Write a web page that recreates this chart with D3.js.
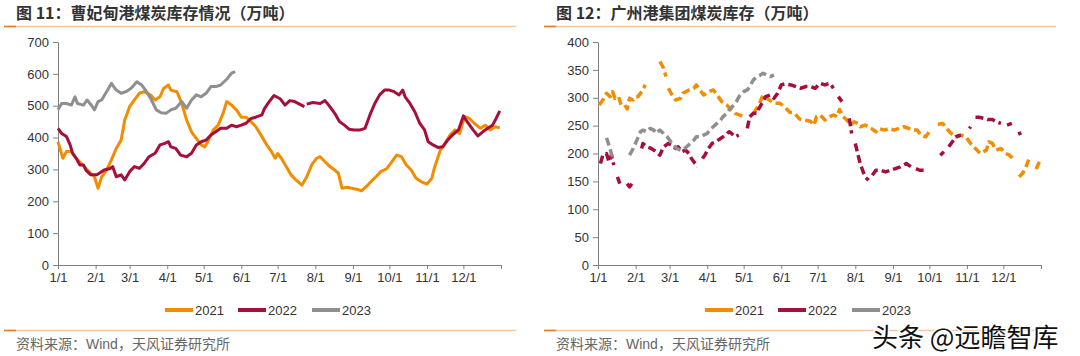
<!DOCTYPE html>
<html><head><meta charset="utf-8">
<script src="https://cdn.jsdelivr.net/npm/d3@7/dist/d3.min.js"></script>
<style>
html,body{margin:0;padding:0;background:#fff;}
svg{display:block;}
</style></head>
<body>
<svg id="c" width="1080" height="356"></svg>
<script>
// ---------- DATA ----------
const monthStartDays = [0,31,59,90,120,151,181,212,243,273,304,334,365];
const monthLabels = ["1/1","2/1","3/1","4/1","5/1","6/1","7/1","8/1","9/1","10/1","11/1","12/1",""];
const seriesNames = ["2021","2022","2023"];
const leftTicks = [0,100,200,300,400,500,600,700];
const rightTicks = [0,50,100,150,200,250,300,350,400];

// 曹妃甸港 (left) — [day of year, 万吨]
const cfd2021 = [[0,387],[4,335],[7,356],[11,356],[15,335],[19,319],[23,303],[27,288],[30,277],[33,241],[36,277],[40,298],[44,330],[48,366],[52,392],[55,455],[59,497],[63,518],[67,539],[71,544],[76,534],[80,518],[84,528],[87,554],[91,565],[93,549],[98,544],[102,507],[106,455],[110,418],[114,397],[118,377],[121,371],[124,392],[128,424],[132,439],[136,476],[139,513],[143,502],[147,487],[151,464],[155,464],[159,450],[163,434],[168,403],[172,377],[176,355],[179,335],[181,350],[184,335],[188,309],[192,283],[196,267],[201,251],[205,277],[209,314],[213,335],[216,340],[220,324],[224,309],[228,298],[231,288],[234,241],[238,244],[242,241],[246,238],[250,233],[254,246],[258,262],[262,277],[266,293],[271,303],[275,324],[279,345],[283,340],[287,314],[291,298],[295,272],[299,262],[304,254],[308,272],[310,303],[315,361],[319,382],[323,408],[327,424],[331,413],[335,466],[339,460],[343,445],[348,429],[352,439],[356,424],[360,434],[364,431]];
const cfd2022 = [[0,429],[3,413],[7,403],[10,377],[12,351],[15,335],[18,314],[21,314],[23,298],[27,283],[32,283],[34,288],[38,298],[43,303],[45,309],[48,277],[52,283],[55,267],[59,293],[63,309],[67,303],[71,319],[75,340],[80,351],[84,377],[88,382],[91,387],[93,371],[97,366],[101,345],[106,340],[110,351],[114,377],[118,387],[122,392],[126,408],[130,418],[134,429],[139,429],[143,439],[147,434],[151,439],[155,445],[159,460],[163,464],[168,471],[170,490],[174,513],[178,532],[183,522],[187,502],[191,516],[195,513],[199,505],[203,497],null,[205,505],[210,510],[216,507],[220,516],[224,497],[228,476],[232,450],[236,439],[240,426],[244,424],[249,424],[253,429],[257,471],[261,507],[265,534],[269,549],[273,549],[277,544],[281,534],[284,549],[286,528],[290,507],[294,481],[298,445],[302,424],[305,387],[309,377],[313,369],[317,371],[321,392],[325,408],[330,424],[334,468],[338,445],[342,424],[346,405],[350,418],[354,429],[358,439],[361,460],[364,484]];
const cfd2023 = [[0,487],[3,507],[7,507],[11,502],[14,528],[16,507],[21,502],[24,518],[28,499],[30,487],[33,513],[36,518],[40,544],[44,570],[48,549],[52,539],[56,544],[60,554],[65,575],[69,565],[73,544],[77,518],[81,487],[85,478],[89,476],[93,487],[97,492],[102,513],[106,492],[110,518],[114,534],[118,528],[122,539],[126,560],[130,560],[134,565],[139,583],[143,602],[146,607]];

// 广州港集团 (right) — [day of year, 万吨]; null = gap in data
const gz2021 = [[1,287],[4,296],[7,308],[10,302],[12,311],[14,299],[17,302],[19,287],[22,287],[24,280],[26,299],[29,296],[31,302],[33,302],[36,311],[39,323],null,[51,365],[54,353],[56,338],null,[58,317],[61,305],[64,296],[68,299],[70,308],[75,314],[79,317],[81,323],[84,314],[87,305],[91,311],[95,314],[99,302],[102,293],[106,287],[110,278],[113,272],[117,269],[120,266],null,[128,272],[132,285],[136,305],[141,296],[146,290],[150,290],[154,283],[158,274],[162,272],[166,262],[170,260],[175,258],[178,251],[180,266],[183,269],[187,260],[191,266],[194,269],[197,266],[199,279],[202,266],[205,260],[208,251],[211,257],[214,254],[216,248],[220,251],[225,245],[229,239],[231,245],[236,242],[240,245],[244,242],[248,245],[252,248],[256,245],[259,242],[263,242],[266,233],[270,230],[273,239],null,[280,252],[284,254],[287,245],[291,236],[295,230],[299,233],[303,230],[307,218],[311,209],[315,200],[320,206],[322,221],[325,218],[328,206],[332,209],[336,200],[339,197],[343,188],null,[347,158],[350,165],[353,178],[355,190],null,[361,172],[363,182],[365,190]];
const gz2022 = [[2,182],[4,197],[7,200],[9,185],[11,197],[13,179],null,[16,158],[18,146],null,[24,146],[26,140],[28,146],null,[36,209],[37,218],[40,212],[44,209],[48,203],[51,197],[54,212],[58,218],[61,215],[64,209],[66,212],[69,203],[72,206],[75,200],[77,191],[80,182],[82,176],null,[86,191],[88,197],[91,209],[94,218],[97,221],[101,227],[105,233],[108,239],[110,236],[113,230],[116,233],null,[123,245],[125,266],[128,272],[131,272],[132,278],[135,290],[138,302],[142,305],[145,299],[148,308],[151,323],[154,325],[159,323],[163,320],[167,317],[171,320],[175,320],[179,317],[183,326],[187,323],[191,326],[194,317],null,[198,302],[201,293],null,[207,263],[209,236],null,[212,218],[214,200],[216,182],[218,170],[220,158],[223,152],null,[226,161],[229,170],[233,170],[237,167],[241,170],[245,173],[249,176],[254,182],[258,176],null,[262,173],[265,170],[269,170],null,[282,197],[285,203],null,[289,212],[292,221],[295,230],[299,233],null,[306,245],[307,248],null,[311,265],[314,265],[318,263],[321,261],[325,261],[328,257],[332,254],null,[337,251],[341,254],null,[347,239],[348,233]];
const gz2023 = [[7,228],[9,215],[11,200],[12,194],null,[26,197],[29,209],[32,224],[35,239],[37,242],[40,239],[43,245],[46,242],[48,236],[51,242],[54,236],[57,230],[59,224],[62,215],[65,209],[68,206],[70,206],[73,212],[76,218],[79,224],[81,230],[84,230],[87,233],[90,236],[92,242],[95,248],[98,254],[101,260],[103,266],[106,272],[109,281],[112,287],[114,293],[117,305],[120,311],[123,314],[125,320],[128,332],[131,338],[134,341],[136,344],[139,341],[142,338],[145,341]];

const colors = ["#F28C00","#A50F3A","#8F8F8F"];

// ---------- DRAW ----------
const svg = d3.select("#c");
const cjk = "'Liberation Sans','Noto Sans CJK SC',Arial,sans-serif";

function chart(ox, title, series, yMax, yTicks, dashed) {
  const g = svg.append("g").attr("transform", `translate(${ox},0)`);
  g.append("text").attr("x", 16).attr("y", 19).text(title)
    .attr("font-family", "'Noto Sans CJK SC',sans-serif").attr("font-weight", "bold")
    .attr("font-size", 16).attr("fill", "#333");
  g.append("line").attr("x1", 4).attr("x2", 516).attr("y1", 26.5).attr("y2", 26.5)
    .attr("stroke", "#F9C79B").attr("stroke-width", 1.3);
  g.append("line").attr("x1", 4).attr("x2", 16).attr("y1", 26.5).attr("y2", 26.5)
    .attr("stroke", "#EE7A22").attr("stroke-width", 1.6);

  const x = d3.scaleLinear().domain([0, 365]).range([58, 501]);
  const y = d3.scaleLinear().domain([0, yMax]).range([265, 42]);

  const xAxis = d3.axisBottom(x).tickValues(monthStartDays)
    .tickFormat((d, i) => monthLabels[i]).tickSize(4).tickPadding(4).tickSizeOuter(0);
  const yAxis = d3.axisLeft(y).tickValues(yTicks).tickSize(5).tickPadding(4).tickSizeOuter(0);

  const ax = g.append("g").attr("transform", "translate(0,265)").call(xAxis);
  const ay = g.append("g").attr("transform", "translate(58,0)").call(yAxis);
  [ax, ay].forEach(a => {
    a.select(".domain").attr("stroke", "#808080");
    a.selectAll(".tick line").attr("stroke", "#808080");
    a.selectAll(".tick text").attr("fill", "#333").attr("font-size", 13)
      .attr("font-family", "'Liberation Sans',Arial,sans-serif");
  });

  const line = d3.line().defined(d => d !== null)
    .x(d => x(d[0])).y(d => y(d[1])).curve(d3.curveLinear);

  series.forEach((s, i) => {
    const p = g.append("path").datum(s).attr("d", line)
      .attr("fill", "none").attr("stroke", colors[i])
      .attr("stroke-width", dashed ? 3.5 : 3).attr("stroke-linejoin", "round");
    if (dashed) p.attr("stroke-dasharray", "8,4");
  });

  const lx = [165, 238, 312];
  seriesNames.forEach((n, i) => {
    g.append("line").attr("x1", lx[i]).attr("x2", lx[i] + 28).attr("y1", 310).attr("y2", 310)
      .attr("stroke", colors[i]).attr("stroke-width", 4);
    g.append("text").attr("x", lx[i] + 30).attr("y", 314.5).text(n)
      .attr("font-family", "'Liberation Sans',Arial,sans-serif").attr("font-size", 13).attr("fill", "#333");
  });

  g.append("line").attr("x1", 4).attr("x2", 516).attr("y1", 330.5).attr("y2", 330.5)
    .attr("stroke", "#F9C79B").attr("stroke-width", 1.3);
  g.append("line").attr("x1", 4).attr("x2", 16).attr("y1", 330.5).attr("y2", 330.5)
    .attr("stroke", "#EE7A22").attr("stroke-width", 1.6);
  g.append("text").attr("x", 16).attr("y", 349).text("资料来源：Wind，天风证券研究所")
    .attr("font-family", cjk).attr("font-size", 14).attr("fill", "#666");
}

chart(0, "图 11：曹妃甸港煤炭库存情况（万吨）", [cfd2021, cfd2022, cfd2023], 700, leftTicks, false);
chart(540, "图 12：广州港集团煤炭库存（万吨）", [gz2021, gz2022, gz2023], 400, rightTicks, true);

svg.append("text").attr("x", 872).attr("y", 347).text("头条 @远瞻智库")
  .attr("font-family", "'Noto Sans CJK SC',sans-serif").attr("font-size", 26)
  .attr("fill", "#111").attr("stroke", "#fff").attr("stroke-width", 3)
  .attr("paint-order", "stroke");
</script>
</body></html>
